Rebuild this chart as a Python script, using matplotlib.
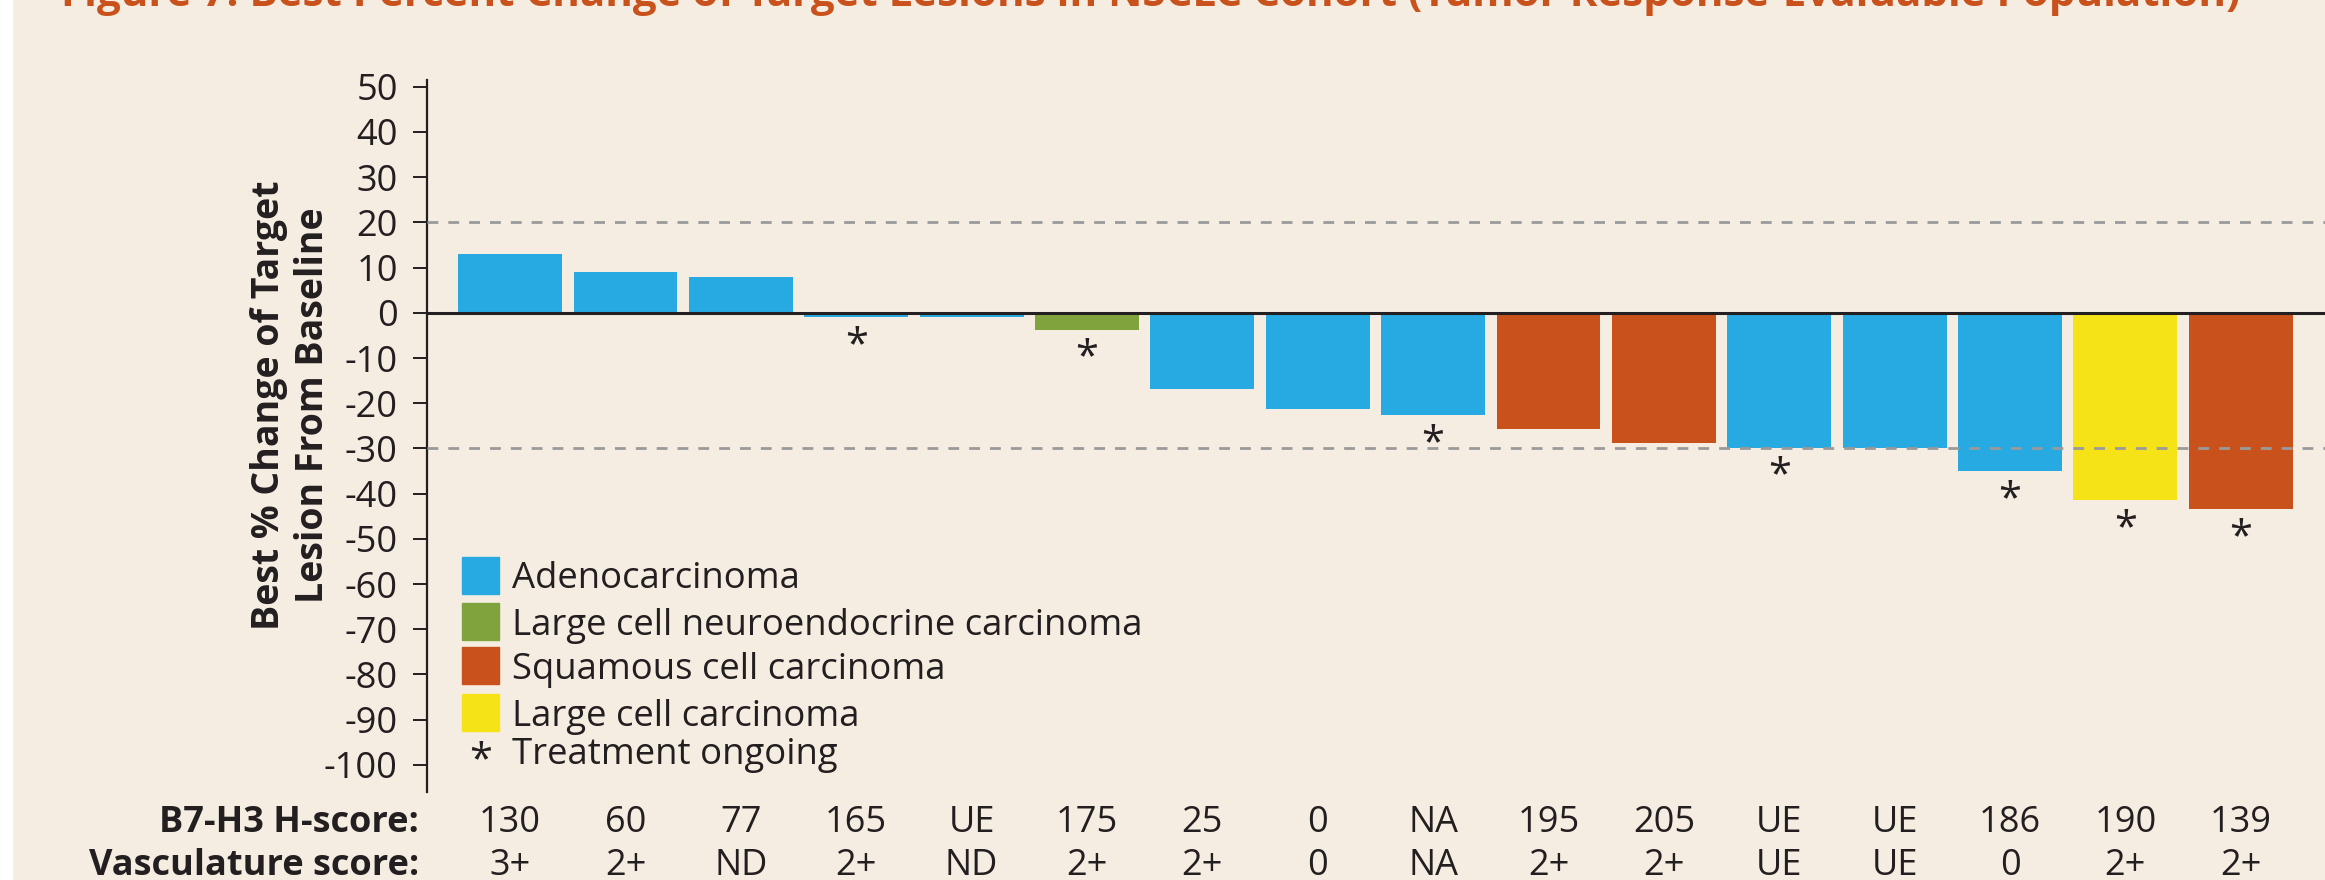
import numpy as np
import matplotlib
matplotlib.use('Agg')
import matplotlib.pyplot as plt
from matplotlib.patches import Rectangle

plt.rcParams['font.family'] = ['Open Sans', 'DejaVu Sans']
plt.rcParams['axes.unicode_minus'] = False

# Data
best_change = [13, 9, 8, -1, -1, -3.7, -16.8, -21.2, -22.7, -25.8, -28.9, -29.8, -29.8, -35.1, -41.5, -43.5]
histology = ['Adeno', 'Adeno', 'Adeno', 'Adeno', 'Adeno', 'LCNEC', 'Adeno', 'Adeno', 'Adeno',
             'Squamous', 'Squamous', 'Adeno', 'Adeno', 'Adeno', 'LargeCell', 'Squamous']
ongoing = [0, 0, 0, 1, 0, 1, 0, 0, 1, 0, 0, 1, 0, 1, 1, 1]
h_score = ['130', '60', '77', '165', 'UE', '175', '25', '0', 'NA', '195', '205', 'UE', 'UE', '186', '190', '139']
vasc_score = ['3+', '2+', 'ND', '2+', 'ND', '2+', '2+', '0', 'NA', '2+', '2+', 'UE', 'UE', '0', '2+', '2+']

legend_keys = ['Adeno', 'LCNEC', 'Squamous', 'LargeCell']
legend_labels = ['Adenocarcinoma', 'Large cell neuroendocrine carcinoma', 'Squamous cell carcinoma',
                 'Large cell carcinoma']
colors = {'Adeno': '#27AAE1', 'LCNEC': '#80A33E', 'Squamous': '#C8511C', 'LargeCell': '#F6E317'}

bg = '#F5EDE1'
ink = '#231F20'
W, H = 2325, 880
fs = 26

fig = plt.figure(figsize=(W / 100, H / 100), dpi=100)
fig.patch.set_facecolor(bg)
# white strip at the left edge
fig.add_artist(Rectangle((0, 0), 12 / W, 1, transform=fig.transFigure, color='white', zorder=0))

ax = fig.add_axes([427 / W, 1 - 792 / H, 1 - 427 / W, (792 - 80) / H])
ax.set_facecolor(bg)

x = np.arange(len(best_change))
ax.bar(x, best_change, width=0.9, color=[colors[h] for h in histology], zorder=2)

ax.axhline(0, color=ink, lw=2.2, zorder=3)
for yy in (20, -30):
    ax.axhline(yy, color='#9A9A9A', lw=2, ls=(0, (3.9, 3.6)), zorder=4)

# asterisks for ongoing treatment
for i in range(len(best_change)):
    if ongoing[i]:
        bottom = min(best_change[i], 0)
        ax.text(x[i], bottom - 8.8, '*', ha='center', va='baseline', fontsize=30, color=ink, zorder=5)

ax.set_xlim(-0.72, 15.73)
ax.set_ylim(-106, 51.5)
ax.set_yticks(np.arange(-100, 51, 10))
ax.set_xticks([])
for s in ['top', 'right', 'bottom']:
    ax.spines[s].set_visible(False)
ax.spines['left'].set_linewidth(1.6)
ax.spines['left'].set_color(ink)
ax.tick_params(axis='y', length=10, width=1.4, color=ink, labelsize=fs, labelcolor=ink, pad=11)

fig.text(291 / W, 1 - 405 / H, 'Best % Change of Target\nLesion From Baseline', rotation=90,
         ha='center', va='center', multialignment='center', fontsize=27, fontweight='bold',
         color=ink, linespacing=1.2)

# legend drawn by hand
row_centers = [575.5, 621.5, 665.5, 712.5]
for key, lab, yc in zip(legend_keys, legend_labels, row_centers):
    fig.add_artist(Rectangle((462 / W, 1 - (yc + 18.5) / H), 37 / W, 37 / H, transform=fig.transFigure,
                             color=colors[key]))
    fig.text(512 / W, 1 - (yc + 13) / H, lab, ha='left', va='baseline', fontsize=26.3, color=ink)
fig.text(481 / W, 1 - 772 / H, '*', ha='center', va='baseline', fontsize=30, color=ink)
fig.text(512 / W, 1 - 764 / H, 'Treatment ongoing', ha='left', va='baseline', fontsize=26.3, color=ink)

# score table under the bars
for i in range(len(x)):
    xf = ax.transData.transform((x[i], 0))[0] / W
    fig.text(xf, 1 - 832 / H, h_score[i], ha='center', va='baseline', fontsize=fs, color=ink)
    fig.text(xf, 1 - 875 / H, vasc_score[i], ha='center', va='baseline', fontsize=fs, color=ink)
fig.text(419 / W, 1 - 832 / H, 'B7-H3 H-score:', ha='right', va='baseline', fontsize=fs,
         fontweight='bold', color=ink)
fig.text(419 / W, 1 - 875 / H, 'Vasculature score:', ha='right', va='baseline', fontsize=fs,
         fontweight='bold', color=ink)

fig.text(61 / W, 1 - 6 / H,
         'Figure 7. Best Percent Change of Target Lesions in NSCLC Cohort (Tumor Response-Evaluable Population)',
         ha='left', va='baseline', fontsize=30.3, fontweight='bold', color='#C8511C')

fig.savefig('out.png', dpi=100, facecolor=bg)
